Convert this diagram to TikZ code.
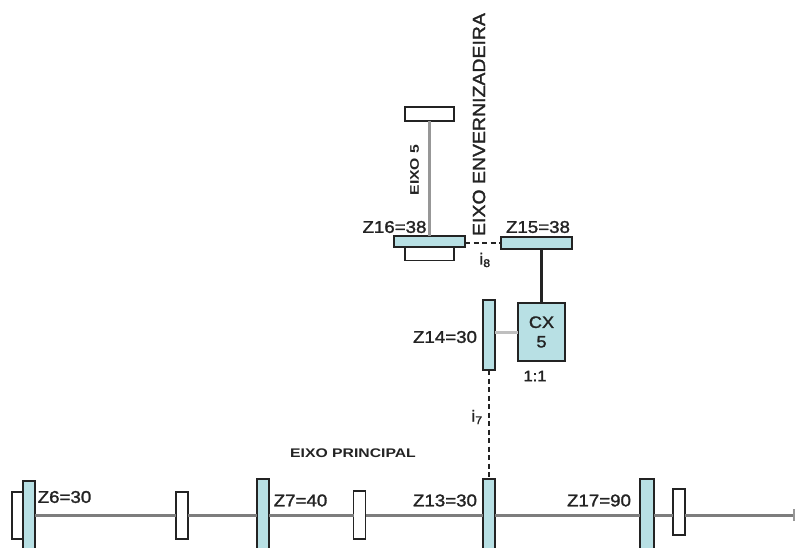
\documentclass[tikz,border=0pt]{standalone}
\usepackage{fontspec}
\setmainfont[FakeStretch=1.1,FakeBold=1.6]{Liberation Sans}
\newfontfamily\widefont[FakeStretch=1.26]{Liberation Sans Bold}
\newcommand{\lbl}[1]{\fontsize{#1}{#1}\selectfont}
\definecolor{gearblue}{RGB}{184,224,228}
\definecolor{inkc}{RGB}{35,35,35}
\definecolor{shaftc}{RGB}{125,125,125}
\tikzset{
  x=1pt,y=-1pt,
  part/.style={draw=inkc,line width=1.4pt,rectangle,inner sep=0pt,outer sep=0pt},
  gear/.style={part,fill=gearblue},
  collar/.style={part,fill=white},
  shaft/.style={draw=shaftc!80,line width=2.1pt},
  mainshaft/.style={draw=shaftc,line width=3pt},
  darkshaft/.style={draw=inkc,line width=2.1pt},
  lightshaft/.style={draw=black!25,line width=3pt},
  mesh/.style={draw=inkc,line width=1.4pt,dash pattern=on 5pt off 3.5pt},
  lab/.style={text=inkc,inner sep=0pt,outer sep=0pt,font=\lbl{17}},
  smalllab/.style={text=inkc,inner sep=0pt,outer sep=0pt,font=\widefont\lbl{12.5}}
}
\begin{document}
\begin{tikzpicture}
\useasboundingbox (0,0) rectangle (795,547);
\clip (0,0) rectangle (795,547);
\coordinate (mainline) at (400,515);
\coordinate (mainend) at (794,515);
% collars
\node[collar,minimum width=49pt,minimum height=14pt] (top5) at (429.5,114) {};
\node[collar,minimum width=49pt,minimum height=14pt] (low5) at (429.5,253.5) {};
\node[collar,minimum width=12pt,minimum height=47pt] (w1) at (18,515.5) {};
\node[collar,minimum width=12pt,minimum height=47pt] (w2) at (182,515.5) {};
\node[collar,minimum width=12pt,minimum height=48pt] (w3) at (359.5,515) {};
\node[collar,minimum width=12pt,minimum height=46pt] (w4) at (679,512) {};
% gears
\node[gear,minimum width=71pt,minimum height=11pt] (z16) at (429.5,241.5) {};
\node[gear,minimum width=71pt,minimum height=12pt] (z15) at (536.5,243) {};
\node[gear,minimum width=12pt,minimum height=70pt] (z14) at (489,335) {};
\node[gear,minimum width=47pt,minimum height=58pt,align=center,font=\lbl{16.5},text=inkc] (cx) at (541.5,332) {CX\\[3pt]5};
\node[gear,minimum width=12pt,minimum height=90pt,anchor=north] (z6) at (29,481) {};
\node[gear,minimum width=12pt,minimum height=90pt,anchor=north] (z7) at (263,479) {};
\node[gear,minimum width=12pt,minimum height=90pt,anchor=north] (z13) at (489,479) {};
\node[gear,minimum width=14pt,minimum height=90pt,anchor=north] (z17) at (647,479) {};
% connectors
\draw[shaft] (top5) -- (z16.north -| top5);
\draw[mesh] (z16.east |- z15) -- (z15.west);
\draw[darkshaft] (z15.south -| cx) -- (cx.north);
\draw[lightshaft] (z14.east |- cx) -- (cx.west);
\draw[mesh] (z14.south) -- (z13.north);
\draw[mainshaft] (z6.east |- mainline) -- (w2.west |- mainline);
\draw[mainshaft] (w2.east |- mainline) -- (z7.west |- mainline);
\draw[mainshaft] (z7.east |- mainline) -- (w3.west |- mainline);
\draw[mainshaft] (w3.east |- mainline) -- (z13.west |- mainline);
\draw[mainshaft] (z13.east |- mainline) -- (z17.west |- mainline);
\draw[mainshaft] (z17.east |- mainline) -- (w4.west |- mainline);
\draw[mainshaft] (w4.east |- mainline) -- (mainend);
\draw[shaft] ([yshift=-6pt]mainend) -- ([yshift=6pt]mainend);
% labels
\node[lab] (tz16) at (394.5,227) {Z16=38};
\node[lab] (tz15) at (538,227) {Z15=38};
\node[lab] (tz14) at (445,337) {Z14=30};
\node[lab] (tz13) at (445,500.5) {Z13=30};
\node[lab] (tz17) at (599,500.5) {Z17=90};
\node[lab] (tz6) at (64.5,497) {Z6=30};
\node[lab] (tz7) at (300.5,500.5) {Z7=40};
\node[lab,font=\lbl{15}] (t11) at (535,376) {1:1};
\node[smalllab] (tmain) at (353,453) {EIXO PRINCIPAL};
\node[smalllab,rotate=90] (t5) at (414.5,170) {EIXO 5};
\node[lab,rotate=90,font=\lbl{17.7}] (tenv) at (479,124.5) {EIXO ENVERNIZADEIRA};
\node[lab,font=\lbl{16}] (ti8) at (485,260) {i\textsubscript{8}};
\node[lab,font=\lbl{16}] (ti7) at (477,417) {i\textsubscript{7}};
\end{tikzpicture}
\end{document}
